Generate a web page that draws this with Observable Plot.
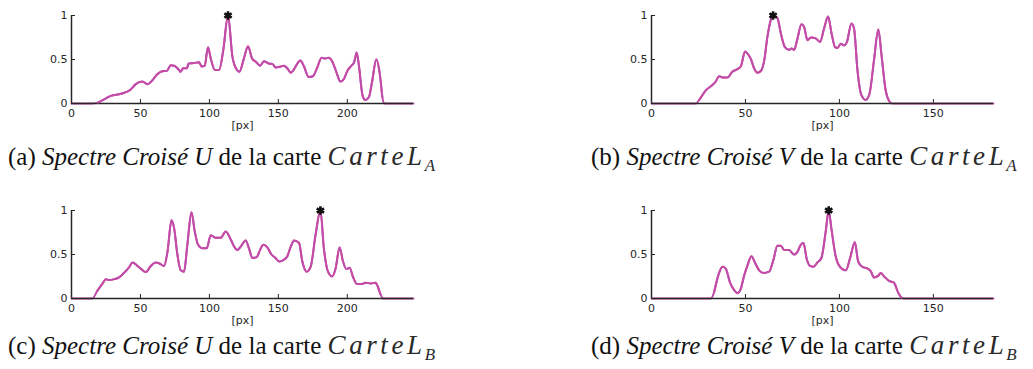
<!DOCTYPE html>
<html>
<head>
<meta charset="utf-8">
<script src="https://cdn.jsdelivr.net/npm/d3@7"></script>
<script src="https://cdn.jsdelivr.net/npm/@observablehq/plot@0.6"></script>
<style>
  html, body { margin: 0; padding: 0; background: #fff; }
  #page { position: relative; width: 1033px; height: 369px; overflow: hidden; background: #fff; }
  .panel { position: absolute; }
  .cap { position: absolute; font-family: "Liberation Serif", "Times New Roman", serif; font-size: 25px; line-height: 25px; color: #111; white-space: nowrap; }
  .cap i { font-style: italic; }
  .cap .m { font-style: italic; font-size: 27px; letter-spacing: 3.6px; color: #2a2a2a; }
  .cap sub { font-size: 17px; vertical-align: baseline; position: relative; top: 6px; font-style: italic; color: #2a2a2a; margin-left: -1px; }
</style>
</head>
<body>
<div id="page"></div>
<script>
// ---- data ----
const xTicksU = [0, 50, 100, 150, 200];
const xTicksV = [0, 50, 100, 150];
const yTicks = [0, 0.5, 1];

const uA_x = [0, 14, 19, 24, 28.5, 36, 43, 46.6, 51.4, 55, 58.7, 62, 67, 69, 72, 74.4, 78, 79, 81, 83.6, 85, 89, 92.5, 94.4, 96.6, 99, 101, 104, 107, 110, 113.5, 116.7, 120, 121.7, 125, 128, 131, 134, 136.7, 139.6, 143, 145.7, 148, 151.7, 154, 156.5, 159, 161, 164, 166, 168.6, 172, 175, 178, 181.4, 184, 186.7, 189, 192, 195, 197.6, 200, 202.4, 205, 206.8, 208.5, 211, 213, 215.7, 218, 221, 223.7, 225.4, 226.6, 248];
const uA_y = [0, 0, 0.01, 0.05, 0.087, 0.11, 0.16, 0.22, 0.25, 0.22, 0.265, 0.33, 0.37, 0.37, 0.435, 0.43, 0.38, 0.36, 0.40, 0.40, 0.455, 0.46, 0.47, 0.42, 0.43, 0.64, 0.51, 0.38, 0.38, 0.6, 1.0, 0.53, 0.38, 0.36, 0.51, 0.65, 0.51, 0.47, 0.43, 0.48, 0.455, 0.45, 0.41, 0.42, 0.43, 0.40, 0.35, 0.38, 0.46, 0.49, 0.42, 0.30, 0.31, 0.40, 0.52, 0.51, 0.52, 0.48, 0.36, 0.25, 0.28, 0.37, 0.42, 0.47, 0.58, 0.42, 0.095, 0.04, 0.075, 0.25, 0.50, 0.32, 0.075, 0, 0];

const vA_x = [0, 23.6, 25.4, 28.9, 32.4, 34.2, 36, 37.8, 40.4, 43, 45.7, 47.5, 49.8, 51, 52.8, 54.6, 56.4, 58.2, 60, 61.7, 63.5, 64.7, 67, 68.8, 71, 73.2, 74.5, 75.9, 77.7, 79.8, 81.2, 83, 84.8, 87.4, 89.7, 91.8, 94, 95.7, 97.7, 99, 100.7, 102.5, 104, 106.4, 107.8, 109.6, 111.7, 114, 116, 118.4, 120.7, 122.5, 124.6, 126.4, 128.2, 182];
const vA_y = [0, 0, 0.04, 0.15, 0.21, 0.25, 0.31, 0.295, 0.295, 0.36, 0.39, 0.42, 0.59, 0.57, 0.51, 0.40, 0.35, 0.37, 0.49, 0.76, 0.95, 1.0, 0.97, 0.80, 0.64, 0.61, 0.625, 0.61, 0.74, 0.90, 0.87, 0.72, 0.75, 0.74, 0.70, 0.85, 0.99, 0.81, 0.64, 0.63, 0.68, 0.66, 0.70, 0.91, 0.85, 0.38, 0.095, 0.04, 0.11, 0.49, 0.84, 0.53, 0.15, 0.03, 0, 0];

const uB_x = [0, 15.2, 18.8, 22.5, 24.9, 27.3, 31, 34.5, 38, 41.8, 44.2, 47.8, 50.2, 53.9, 57.5, 61, 63.5, 67.1, 69.6, 72.5, 74.4, 76.8, 79.2, 81.6, 84, 87, 89.4, 91.8, 95, 98, 101, 104.6, 108.2, 111.8, 115.5, 117.9, 120.3, 122.7, 126.3, 128.7, 131.2, 134.3, 136.7, 139.1, 142, 145, 148, 150.5, 154, 156.5, 159, 161.4, 165, 167.4, 170.5, 173.4, 177, 180.5, 183, 186, 189, 191.5, 194.4, 196.9, 199.3, 201.7, 204, 207, 210.9, 213, 216.9, 220.5, 221.7, 224, 226, 248];
const uB_y = [0, 0, 0.09, 0.17, 0.22, 0.21, 0.22, 0.24, 0.29, 0.355, 0.41, 0.37, 0.34, 0.30, 0.37, 0.41, 0.40, 0.37, 0.53, 0.89, 0.80, 0.50, 0.32, 0.305, 0.61, 0.98, 0.76, 0.61, 0.57, 0.57, 0.72, 0.69, 0.69, 0.76, 0.67, 0.59, 0.55, 0.59, 0.66, 0.57, 0.46, 0.47, 0.55, 0.61, 0.58, 0.50, 0.46, 0.42, 0.44, 0.48, 0.59, 0.66, 0.63, 0.42, 0.305, 0.36, 0.725, 1.0, 0.57, 0.305, 0.25, 0.34, 0.58, 0.42, 0.335, 0.35, 0.25, 0.165, 0.165, 0.18, 0.17, 0.18, 0.15, 0.05, 0, 0];

const vB_x = [0, 31.6, 33.3, 35.5, 37.8, 39.5, 41.8, 44, 45.7, 47.5, 49.3, 51, 53.2, 55, 57.3, 59.6, 62.6, 64.9, 67, 68.8, 70.6, 73.2, 75.9, 77.7, 79.4, 80.9, 82.6, 84.4, 86.2, 88.3, 90.4, 92.7, 94.3, 95.7, 98, 100.7, 103.4, 105.7, 108.2, 110, 112.2, 115, 116.7, 118.4, 120.7, 122, 123.8, 126.4, 129, 131.2, 133, 134.4, 182];
const vB_y = [0, 0, 0.07, 0.26, 0.36, 0.34, 0.18, 0.095, 0.06, 0.11, 0.26, 0.37, 0.48, 0.41, 0.32, 0.29, 0.305, 0.44, 0.60, 0.60, 0.55, 0.55, 0.50, 0.53, 0.61, 0.63, 0.45, 0.37, 0.36, 0.41, 0.46, 0.76, 1.0, 0.80, 0.48, 0.35, 0.32, 0.46, 0.64, 0.42, 0.36, 0.34, 0.31, 0.24, 0.26, 0.29, 0.25, 0.20, 0.18, 0.07, 0.01, 0, 0];

const captions = [
  {lab: "(a)", name: "Spectre Croisé U", sub: "A"},
  {lab: "(b)", name: "Spectre Croisé V", sub: "A"},
  {lab: "(c)", name: "Spectre Croisé U", sub: "B"},
  {lab: "(d)", name: "Spectre Croisé V", sub: "B"}
];

// ---- drawing ----
const lineColor = "#c24ca8";
const axisColor = "#262626";

function panel(xs, ys, xmax, xticks) {
  const data = xs.map((x, i) => ({x, y: ys[i]}));
  const peak = [data[d3.maxIndex(ys)]];
  return Plot.plot({
    width: 420, height: 135,
    marginLeft: 71, marginRight: 7, marginTop: 15, marginBottom: 32,
    style: {fontFamily: "DejaVu Sans", fontSize: "11px", color: axisColor, background: "white"},
    x: {domain: [0, xmax]},
    y: {domain: [0, 1]},
    marks: [
      Plot.axisX(xticks, {tickSize: -4, tickPadding: 10, letterSpacing: 0.6, label: "[px]", labelAnchor: "center", labelArrow: "none", labelOffset: 25}),
      Plot.axisY(yTicks, {tickSize: -4, tickPadding: 8, letterSpacing: 0.6, tickFormat: d => String(d), label: null}),
      Plot.ruleX([0], {stroke: axisColor, strokeWidth: 1.5}),
      Plot.line(data, {x: "x", y: "y", stroke: lineColor, strokeWidth: 2, curve: "monotone-x"}),
      Plot.ruleY([0], {stroke: axisColor, strokeWidth: 1.5}),
      Plot.line(data, {x: "x", y: "y", stroke: lineColor, strokeWidth: 2, curve: "monotone-x", filter: d => d.y > 0.004}),
      Plot.dot(peak, {x: "x", y: "y", symbol: "asterisk", r: 4, stroke: "#111", strokeWidth: 2.6})
    ]
  });
}

const page = document.getElementById("page");
const specs = [
  {xs: uA_x, ys: uA_y, xmax: 248, ticks: xTicksU, left: 0, top: 0, capLeft: 8, capTop: 144},
  {xs: vA_x, ys: vA_y, xmax: 182, ticks: xTicksV, left: 580, top: 0, capLeft: 591, capTop: 144},
  {xs: uB_x, ys: uB_y, xmax: 248, ticks: xTicksU, left: 0, top: 195, capLeft: 8, capTop: 333},
  {xs: vB_x, ys: vB_y, xmax: 182, ticks: xTicksV, left: 580, top: 195, capLeft: 591, capTop: 333}
];
specs.forEach((s, i) => {
  const div = document.createElement("div");
  div.className = "panel";
  div.style.left = s.left + "px";
  div.style.top = s.top + "px";
  div.appendChild(panel(s.xs, s.ys, s.xmax, s.ticks));
  page.appendChild(div);
  const c = captions[i];
  const cap = document.createElement("div");
  cap.className = "cap";
  cap.style.left = s.capLeft + "px";
  cap.style.top = s.capTop + "px";
  cap.innerHTML = `${c.lab} <i>${c.name}</i> de la carte <span class="m">CarteL</span><sub>${c.sub}</sub>`;
  page.appendChild(cap);
});
</script>
</body>
</html>
